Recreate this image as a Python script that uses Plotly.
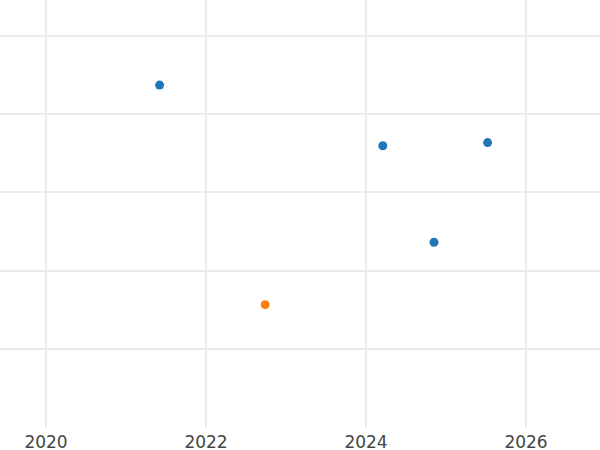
import plotly.graph_objects as go

# Data
blue_x = [2021.42, 2024.21, 2025.52, 2024.85]
blue_y = [43.72, 35.96, 36.37, 23.63]
orange_x = [2022.74]
orange_y = [15.64]
x_ticks = [2020, 2022, 2024, 2026]
y_ticks = [10, 20, 30, 40, 50]

fig = go.Figure()
fig.add_trace(go.Scatter(x=blue_x, y=blue_y, mode="markers",
                         marker=dict(color="#1f77b4", size=9), showlegend=False))
fig.add_trace(go.Scatter(x=orange_x, y=orange_y, mode="markers",
                         marker=dict(color="#ff7f0e", size=9), showlegend=False))

fig.update_layout(
    width=600, height=450,
    margin=dict(l=0, r=0, t=0, b=23, autoexpand=False),
    paper_bgcolor="white", plot_bgcolor="white",
    font=dict(family="DejaVu Sans", size=17, color="#444"),
    xaxis=dict(range=[2019.425, 2026.925], tickvals=x_ticks,
               ticktext=[str(t) for t in x_ticks], ticklabelstandoff=3,
               automargin=False,
               showgrid=True, gridcolor="#ebebeb", gridwidth=2,
               zeroline=False, showline=False, ticks=""),
    yaxis=dict(range=[0, 54.6], tickvals=y_ticks, showticklabels=False,
               automargin=False,
               showgrid=True, gridcolor="#ebebeb", gridwidth=1.5,
               zeroline=False, showline=False, ticks=""),
)

fig.write_html("out.html", config={"displayModeBar": False},
               post_script="document.body.style.margin='0';")
